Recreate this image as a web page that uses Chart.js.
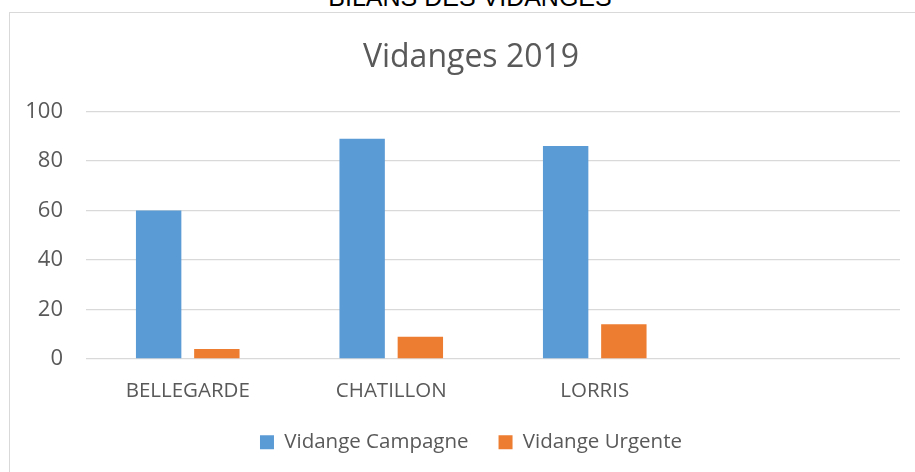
<!DOCTYPE html>
<html>
<head>
<meta charset="utf-8">
<script src="https://cdn.jsdelivr.net/npm/chart.js@4"></script>
<style>
  html, body { margin: 0; padding: 0; background: #fff; overflow: hidden; }
  body { width: 915px; height: 472px; position: relative; }
  #doc-title {
    position: absolute; left: 0; top: -15px; width: 940px;
    text-align: center; font: 25px/25px "Liberation Sans", Arial, sans-serif; color: #000;
  }
  #frame {
    position: absolute; left: 9px; top: 12px; width: 920px; height: 480px;
    border-left: 1px solid #d9d9d9; border-top: 1px solid #d9d9d9;
  }
  #wrap { position: absolute; left: 10px; top: 13px; width: 905px; height: 459px; }
</style>
</head>
<body>
<div id="doc-title">BILANS DES VIDANGES</div>
<div id="frame"></div>
<div id="wrap"><canvas id="chart"></canvas></div>
<script>
// données
const categories = ['BELLEGARDE', 'CHATILLON', 'LORRIS', ''];
const campagne = [60, 89, 86, null];
const urgente = [4, 9, 14, null];
const yTicks = [0, 20, 40, 60, 80, 100];

const GREY = '#595959';
const FONT = '"Open Sans", "Noto Sans", sans-serif';
const Y_FONT = 22;

function init() {
    const ctx = document.getElementById('chart').getContext('2d');

    new Chart(ctx, {
        type: 'bar',
        data: {
            labels: categories,
            datasets: [
                { label: 'Vidange Campagne', data: campagne, backgroundColor: '#5B9BD5', categoryPercentage: 0.572, barPercentage: 0.78 },
                { label: 'Vidange Urgente', data: urgente, backgroundColor: '#ED7D31', categoryPercentage: 0.572, barPercentage: 0.78 }
            ]
        },
        options: {
            responsive: true,
            maintainAspectRatio: false,
            animation: false,
            // padding gauche pour recentrer titre et légende comme l'original
            layout: { padding: { left: 32, right: 15, top: 0, bottom: 9.5 } },
            plugins: {
                title: {
                    display: true,
                    text: 'Vidanges 2019',
                    color: GREY,
                    font: { family: FONT, size: 32, weight: 'normal' },
                    padding: { top: 26, bottom: 34 }
                },
                legend: {
                    position: 'bottom',
                    labels: {
                        color: GREY,
                        boxWidth: 14,
                        boxHeight: 14,
                        padding: 30,
                        font: { family: FONT, size: 20.5 }
                    }
                },
                tooltip: { enabled: false }
            },
            scales: {
                x: {
                    grid: { display: false },
                    border: { display: false },
                    afterFit: (scale) => { scale.height = 43; },
                    ticks: { color: GREY, padding: 12, font: { family: FONT, size: 20.5 }, maxRotation: 0 }
                },
                y: {
                    min: 0,
                    max: 100,
                    afterBuildTicks: (scale) => { scale.ticks = yTicks.map(v => ({ value: v })); },
                    afterFit: (scale) => { scale.width = 44; },
                    grid: { color: '#d9d9d9', lineWidth: 1.3, drawTicks: false },
                    border: { display: false },
                    // mirror + far : étiquettes alignées à droite, 23px avant la zone de tracé
                    ticks: {
                        color: GREY,
                        mirror: true,
                        crossAlign: 'far',
                        padding: -23 - 3 * 0.572 * Y_FONT,
                        font: { family: FONT, size: Y_FONT }
                    }
                }
            }
        }
    });
}

document.addEventListener('DOMContentLoaded', init);
</script>
</body>
</html>
